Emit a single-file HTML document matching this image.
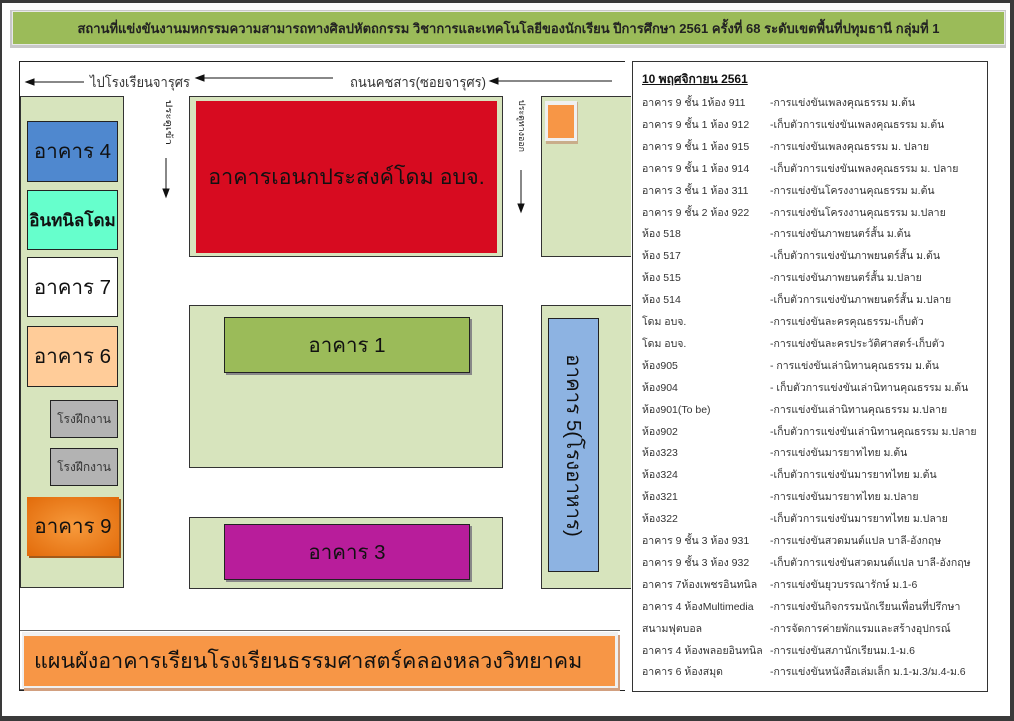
<!DOCTYPE html>
<html><head><meta charset="utf-8"><style>
body{margin:0;width:1014px;height:721px;background:#3a3a3a;position:relative;overflow:hidden;font-family:"Liberation Sans","Noto Sans CJK SC",sans-serif}
.a{position:absolute;box-sizing:border-box}
.page{left:2px;top:3px;width:1008px;height:713px;background:#fff}
.g{background:#d7e4bd;border:1px solid #333}
.b{border:1.5px solid #222;display:flex;align-items:center;justify-content:center;font-size:20.5px;color:#111;white-space:nowrap}
.t{position:absolute;font-size:11px;color:#333;white-space:nowrap}
</style></head><body>
<div class="a page"></div>
<div class="a" style="left:10px;top:10px;width:996px;height:38px;background:#c8c8c8"></div>
<div class="a" style="left:12px;top:11px;width:993px;height:34px;background:#9bbb59;border:1px solid #e8e8e8;display:flex;align-items:center;justify-content:center;font-size:13px;font-weight:bold;color:#222;white-space:nowrap">สถานที่แข่งขันงานมหกรรมความสามารถทางศิลปหัตถกรรม วิชาการและเทคโนโลยีของนักเรียน ปีการศึกษา 2561 ครั้งที่ 68 ระดับเขตพื้นที่ปทุมธานี กลุ่มที่ 1</div>
<div class="a" style="left:19px;top:61px;width:606px;height:630px;border:1px solid #222;border-right:none"></div>
<svg class="a" style="left:0;top:0" width="640" height="721">
<g stroke="#111" stroke-width="1" fill="#111">
<line x1="30" y1="82" x2="84" y2="82"/><polygon points="26,82 34,79 34,85"/>
<line x1="200" y1="78" x2="333" y2="78"/><polygon points="196,78 204,75 204,81"/>
<line x1="494" y1="81" x2="612" y2="81"/><polygon points="490,81 498,78 498,84"/>
<line x1="166" y1="158" x2="166" y2="193"/><polygon points="166,197 163,189 169,189"/>
<line x1="521" y1="170" x2="521" y2="208"/><polygon points="521,212 518,204 524,204"/>
</g>
<text x="90" y="87" font-size="14" fill="#333" textLength="100" lengthAdjust="spacingAndGlyphs" font-family="Liberation Sans,Noto Sans CJK SC,sans-serif">ไปโรงเรียนจารุศร</text>
<text x="350" y="87" font-size="14" fill="#333" textLength="136" lengthAdjust="spacingAndGlyphs" font-family="Liberation Sans,Noto Sans CJK SC,sans-serif">ถนนคชสาร(ซอยจารุศร)</text>
<text transform="translate(166,100) rotate(90)" font-size="9" fill="#222" textLength="45" lengthAdjust="spacingAndGlyphs" font-family="Liberation Sans,Noto Sans CJK SC,sans-serif">ประตูเข้า</text>
<text transform="translate(519,100) rotate(90)" font-size="9" fill="#222" textLength="52" lengthAdjust="spacingAndGlyphs" font-family="Liberation Sans,Noto Sans CJK SC,sans-serif">ประตูทางออก</text>
</svg>
<div class="a g" style="left:20px;top:96px;width:104px;height:492px"></div>
<div class="a b" style="left:27px;top:121px;width:91px;height:61px;background:#4f88cf">อาคาร 4</div>
<div class="a b" style="left:27px;top:190px;width:91px;height:60px;background:#66ffcc;font-size:17px;font-weight:bold">อินทนิลโดม</div>
<div class="a b" style="left:27px;top:257px;width:91px;height:60px;background:#fff">อาคาร 7</div>
<div class="a b" style="left:27px;top:326px;width:91px;height:61px;background:#ffcc99">อาคาร 6</div>
<div class="a b" style="left:50px;top:400px;width:68px;height:38px;background:#b3b3b3;font-size:12px;color:#333">โรงฝึกงาน</div>
<div class="a b" style="left:50px;top:448px;width:68px;height:38px;background:#b3b3b3;font-size:12px;color:#333">โรงฝึกงาน</div>
<div class="a b" style="left:27px;top:497px;width:92px;height:59px;background:radial-gradient(#f79a3c,#e26b0a);border:none;box-shadow:2px 2px 0 #a35a1a">อาคาร 9</div>
<div class="a g" style="left:189px;top:96px;width:314px;height:161px"></div>
<div class="a" style="left:196px;top:101px;width:301px;height:152px;background:#d70b20;display:flex;align-items:center;justify-content:center;font-size:21.5px;color:#111;white-space:nowrap">อาคารเอนกประสงค์โดม อบจ.</div>
<div class="a g" style="left:189px;top:305px;width:314px;height:163px"></div>
<div class="a b" style="left:224px;top:317px;width:246px;height:56px;background:#9bbb59;box-shadow:2px 2px 0 #888">อาคาร 1</div>
<div class="a g" style="left:189px;top:517px;width:314px;height:72px"></div>
<div class="a b" style="left:224px;top:524px;width:246px;height:56px;background:#b81d9b;box-shadow:2px 2px 0 #888">อาคาร 3</div>
<div class="a g" style="left:541px;top:96px;width:90px;height:161px;border-right:none"></div>
<div class="a" style="left:546px;top:102px;width:32px;height:42px;background:#c9ad8a"></div>
<div class="a" style="left:545px;top:101px;width:32px;height:40px;background:#f0f0f0"></div>
<div class="a" style="left:548px;top:105px;width:26px;height:33px;background:#f79646"></div>
<div class="a g" style="left:541px;top:305px;width:90px;height:284px;border-right:none"></div>
<div class="a b" style="left:548px;top:318px;width:51px;height:254px;background:#8db3e2"><span style="transform:rotate(90deg);white-space:nowrap;font-size:20.5px">อาคาร 5(โรงอาหาร)</span></div>
<div class="a" style="left:20px;top:630px;width:600px;height:60px;border:1px solid #666;border-left:none;border-right:none"></div>
<div class="a" style="left:22px;top:632px;width:596px;height:56px;background:#f0f0f0;box-shadow:2px 3px 0 #d2a080"></div>
<div class="a" style="left:24px;top:636px;width:591px;height:50px;background:#f79646;display:flex;align-items:center;padding-left:10px;font-size:21.5px;color:#111;white-space:nowrap">แผนผังอาคารเรียนโรงเรียนธรรมศาสตร์คลองหลวงวิทยาคม</div>
<div class="a" style="left:632px;top:61px;width:356px;height:631px;border:1px solid #333;background:#fff"></div>
<div class="t" style="left:642px;top:70px;font-weight:bold;color:#111;text-decoration:underline;font-size:12px">10 พฤศจิกายน 2561</div>
<div id="L"></div>
<script>
var r=[["อาคาร 9 ชั้น 1ห้อง 911","-การแข่งขันเพลงคุณธรรม ม.ต้น"],["อาคาร 9 ชั้น 1 ห้อง 912","-เก็บตัวการแข่งขันเพลงคุณธรรม ม.ต้น"],["อาคาร 9 ชั้น 1 ห้อง 915","-การแข่งขันเพลงคุณธรรม ม. ปลาย"],["อาคาร 9 ชั้น 1 ห้อง 914","-เก็บตัวการแข่งขันเพลงคุณธรรม ม. ปลาย"],["อาคาร 3 ชั้น 1 ห้อง 311","-การแข่งขันโครงงานคุณธรรม ม.ต้น"],["อาคาร 9 ชั้น 2 ห้อง 922","-การแข่งขันโครงงานคุณธรรม ม.ปลาย"],["ห้อง 518","-การแข่งขันภาพยนตร์สั้น ม.ต้น"],["ห้อง 517","-เก็บตัวการแข่งขันภาพยนตร์สั้น ม.ต้น"],["ห้อง 515","-การแข่งขันภาพยนตร์สั้น ม.ปลาย"],["ห้อง 514","-เก็บตัวการแข่งขันภาพยนตร์สั้น ม.ปลาย"],["โดม อบจ.","-การแข่งขันละครคุณธรรม-เก็บตัว"],["โดม อบจ.","-การแข่งขันละครประวัติศาสตร์-เก็บตัว"],["ห้อง905","- การแข่งขันเล่านิทานคุณธรรม ม.ต้น"],["ห้อง904","- เก็บตัวการแข่งขันเล่านิทานคุณธรรม ม.ต้น"],["ห้อง901(To be)","-การแข่งขันเล่านิทานคุณธรรม ม.ปลาย"],["ห้อง902","-เก็บตัวการแข่งขันเล่านิทานคุณธรรม ม.ปลาย"],["ห้อง323","-การแข่งขันมารยาทไทย ม.ต้น"],["ห้อง324","-เก็บตัวการแข่งขันมารยาทไทย ม.ต้น"],["ห้อง321","-การแข่งขันมารยาทไทย ม.ปลาย"],["ห้อง322","-เก็บตัวการแข่งขันมารยาทไทย ม.ปลาย"],["อาคาร 9 ชั้น 3 ห้อง 931","-การแข่งขันสวดมนต์แปล บาลี-อังกฤษ"],["อาคาร 9 ชั้น 3 ห้อง 932","-เก็บตัวการแข่งขันสวดมนต์แปล บาลี-อังกฤษ"],["อาคาร 7ห้องเพชรอินทนิล","-การแข่งขันยุวบรรณารักษ์ ม.1-6"],["อาคาร 4 ห้องMultimedia","-การแข่งขันกิจกรรมนักเรียนเพื่อนที่ปรึกษา"],["สนามฟุตบอล","-การจัดการค่ายพักแรมและสร้างอุปกรณ์"],["อาคาร 4 ห้องพลอยอินทนิล","-การแข่งขันสภานักเรียนม.1-ม.6"],["อาคาร 6 ห้องสมุด","-การแข่งขันหนังสือเล่มเล็ก ม.1-ม.3/ม.4-ม.6"]];
var h="";r.forEach(function(x,i){var y=94+i*21.9;h+='<div class="t" style="left:642px;top:'+y+'px;font-size:10.5px">'+x[0]+'</div><div class="t" style="left:770px;top:'+y+'px;font-size:10.5px">'+x[1]+'</div>';});
document.getElementById("L").innerHTML=h;
</script>
</body></html>
